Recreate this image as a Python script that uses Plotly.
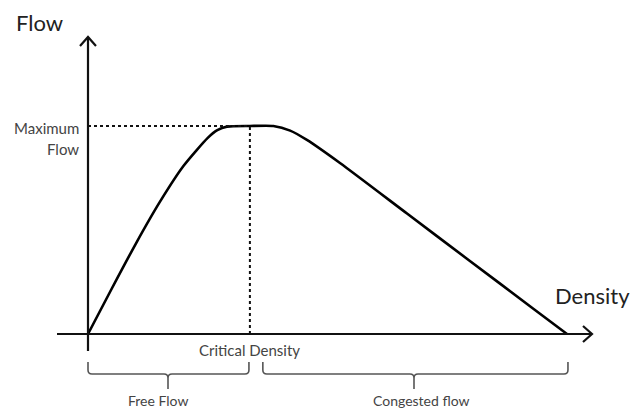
import plotly.graph_objects as go

# Fundamental diagram (relative units: density 0-100 = jam density, flow 0-100 = max flow)
density = [0, 5, 10, 15, 20, 25, 27, 29.0, 33.8, 38.7, 42.2, 45.7,
           52.6, 66.6, 79.1, 92.9, 100]
flow = [0, 22, 43.5, 63.5, 81, 94.3, 98, 99.7, 100, 100, 97.8, 93.3,
        82.2, 57.9, 36.2, 12.3, 0]
critical_density = 33.8
max_flow = 100
jam_density = 100
congested_start = 36.5
congested_end = 100.2

# axis mapping (pixel layout)
X0_PX, XU = 88, 4.79   # px of density 0, px per unit
Y0_PX, YU = 334, 2.08  # px of flow 0, px per unit
W, H = 631, 411


def dx(px):
    return (px - X0_PX) / XU


def dy(py):
    return (Y0_PX - py) / YU


AX = dict(color="#111111", width=2.2)
fig = go.Figure()

# main curve
fig.add_trace(go.Scatter(x=density, y=flow, mode="lines",
                         line=dict(color="#000000", width=2.6, shape="spline", smoothing=0.6),
                         hoverinfo="skip", showlegend=False))

shapes = []
# x axis
shapes.append(dict(type="line", xref="x", yref="y", x0=dx(57), y0=0, x1=dx(592), y1=0, line=AX))
shapes.append(dict(type="path", xref="x", yref="y",
                   path=f"M{dx(583)},{dy(326)} L{dx(592)},0 L{dx(583)},{dy(342)}", line=AX))
# y axis
shapes.append(dict(type="line", xref="x", yref="y", x0=0, y0=dy(351), x1=0, y1=dy(37), line=AX))
shapes.append(dict(type="path", xref="x", yref="y",
                   path=f"M{dx(80)},{dy(46)} L0,{dy(37)} L{dx(96)},{dy(46)}", line=AX))
# dotted guides
DOT = dict(color="#111111", width=2, dash="dot")
shapes.append(dict(type="line", xref="x", yref="y", x0=0, y0=max_flow, x1=critical_density, y1=max_flow, line=DOT))
shapes.append(dict(type="line", xref="x", yref="y", x0=critical_density, y0=0, x1=critical_density, y1=max_flow, line=DOT))


# braces
def brace(xa, xb, xm):
    ytop, ymid, ybot = dy(362), dy(374), dy(389)
    rx = 4 / XU
    ry = 4 / YU
    p = (f"M{xa},{ytop} L{xa},{ymid + ry} Q{xa},{ymid} {xa + rx},{ymid} "
         f"L{xm - rx},{ymid} Q{xm},{ymid} {xm},{ymid - ry} L{xm},{ybot} "
         f"M{xm},{ymid - ry} Q{xm},{ymid} {xm + rx},{ymid} "
         f"L{xb - rx},{ymid} Q{xb},{ymid} {xb},{ymid + ry} L{xb},{ytop}")
    return dict(type="path", xref="x", yref="y", path=p, line=dict(color="#555555", width=1.6))


shapes.append(brace(0, critical_density - 0.2, dx(168)))
shapes.append(brace(congested_start, congested_end, dx(414)))

FONT = "Lato, Open Sans, sans-serif"
ann = []
ann.append(dict(x=dx(39), y=dy(22), text="Flow", showarrow=False,
                font=dict(size=22, color="#222222", family=FONT)))
ann.append(dict(x=dx(592), y=dy(295), text="Density", showarrow=False,
                font=dict(size=22, color="#222222", family=FONT)))
ann.append(dict(x=dx(81), y=dy(128), text="Maximum", showarrow=False, xanchor="right",
                font=dict(size=15, color="#444444", family=FONT)))
ann.append(dict(x=dx(81), y=dy(149), text="Flow", showarrow=False, xanchor="right",
                font=dict(size=15, color="#444444", family=FONT)))
ann.append(dict(x=dx(249), y=dy(350), text="Critical Density", showarrow=False,
                font=dict(size=15, color="#444444", family=FONT)))
ann.append(dict(x=dx(158), y=dy(410), text="Free Flow", showarrow=False, yanchor="bottom",
                borderpad=0, font=dict(size=14, color="#444444", family=FONT)))
ann.append(dict(x=dx(421), y=dy(410), text="Congested flow", yanchor="bottom", borderpad=0,
                showarrow=False, font=dict(size=14, color="#444444", family=FONT)))
for a in ann:
    a.update(xref="x", yref="y")

fig.update_layout(
    width=W, height=H,
    margin=dict(l=0, r=0, t=0, b=0),
    paper_bgcolor="white", plot_bgcolor="white",
    xaxis=dict(range=[dx(0), dx(W)], visible=False, fixedrange=True),
    yaxis=dict(range=[dy(H), dy(0)], visible=False, fixedrange=True),
    shapes=shapes, annotations=ann,
)
fig.write_html("out.html", config={"displayModeBar": False},
               post_script="document.body.style.margin='0';document.body.style.overflow='hidden';")
